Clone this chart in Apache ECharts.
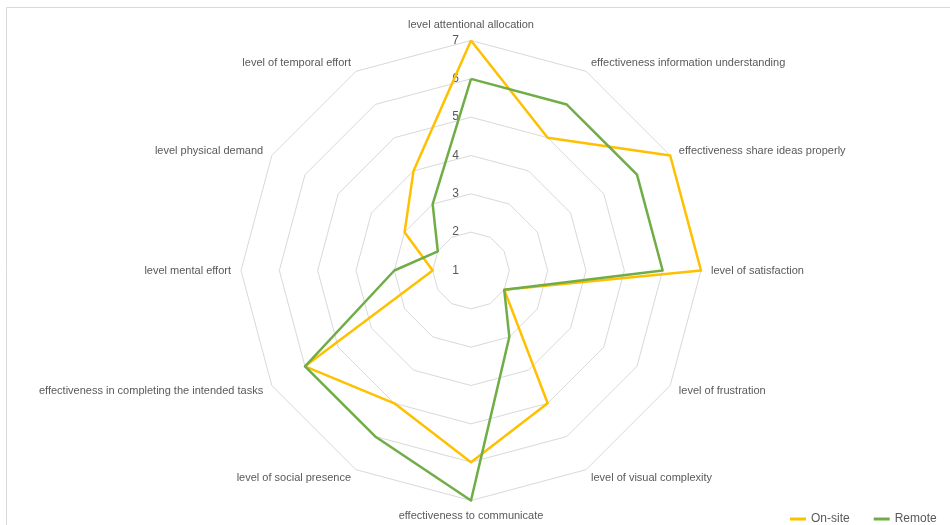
<!DOCTYPE html>
<html>
<head>
<meta charset="utf-8">
<script src="https://cdn.jsdelivr.net/npm/echarts@6/dist/echarts.min.js"></script>
<style>
html,body{margin:0;padding:0;background:#fff;}
#chart{width:950px;height:525px;}
</style>
</head>
<body>
<div id="chart"></div>
<script>
// Indicators in clockwise order, starting at the top
const categories = [
  'level attentional allocation',
  'effectiveness information understanding',
  'effectiveness share ideas properly',
  'level of satisfaction',
  'level of frustration',
  'level of visual complexity',
  'effectiveness to communicate',
  'level of social presence',
  'effectiveness in completing the intended tasks',
  'level mental effort',
  'level physical demand',
  'level of temporal effort'
];
const onSite = [7, 5, 7, 7, 2, 5, 6, 5, 6, 2, 3, 4];
const remote = [6, 6, 6, 6, 2, 3, 7, 6, 6, 3, 2, 3];
const seriesNames = ['On-site', 'Remote'];
const axisMin = 1;
const axisMax = 7;

// ECharts radar runs counter-clockwise; reorder so the picture runs clockwise
const n = categories.length;
const order = categories.map((_, i) => (i === 0 ? 0 : n - i));
const reorder = arr => order.map(i => arr[i]);

const FONT = "'Liberation Sans', Arial, sans-serif";
const TEXT = '#595959';

const indicator = reorder(categories).map((name, i) => {
  const o = { name: name, min: axisMin, max: axisMax };
  if (i === 0) {
    o.axisLabel = { show: true };
  }
  return o;
});

const chart = echarts.init(document.getElementById('chart'), null, { renderer: 'canvas' });
chart.setOption({
  animation: false,
  backgroundColor: '#ffffff',
  graphic: [{
    type: 'rect',
    silent: true,
    shape: { x: 6.5, y: 7.5, width: 1200, height: 1200 },
    style: { fill: 'none', stroke: '#D9D9D9', lineWidth: 1 }
  }],
  legend: {
    data: seriesNames,
    left: 785,
    top: 508,
    itemWidth: 16,
    itemHeight: 3,
    itemGap: 24,
    icon: 'rect',
    textStyle: { color: TEXT, fontSize: 12, fontFamily: FONT }
  },
  radar: {
    center: [471, 270.5],
    radius: 230,
    startAngle: 90,
    shape: 'polygon',
    splitNumber: 6,
    nameGap: 10,
    axisName: { color: TEXT, fontSize: 11, fontFamily: FONT },
    axisLine: { show: false },
    axisTick: { show: false },
    axisLabel: {
      show: false,
      color: TEXT,
      fontSize: 12,
      fontFamily: FONT,
      margin: 12,
      showMinLabel: true,
      showMaxLabel: true
    },
    splitLine: { lineStyle: { color: '#D9D9D9', width: 1 } },
    splitArea: { show: false },
    indicator: indicator
  },
  series: [{
    type: 'radar',
    symbol: 'none',
    data: [
      { name: seriesNames[0], value: reorder(onSite), lineStyle: { color: '#FFC000', width: 2.5 }, itemStyle: { color: '#FFC000' } },
      { name: seriesNames[1], value: reorder(remote), lineStyle: { color: '#70AD47', width: 2.5 }, itemStyle: { color: '#70AD47' } }
    ]
  }]
});
</script>
</body>
</html>
